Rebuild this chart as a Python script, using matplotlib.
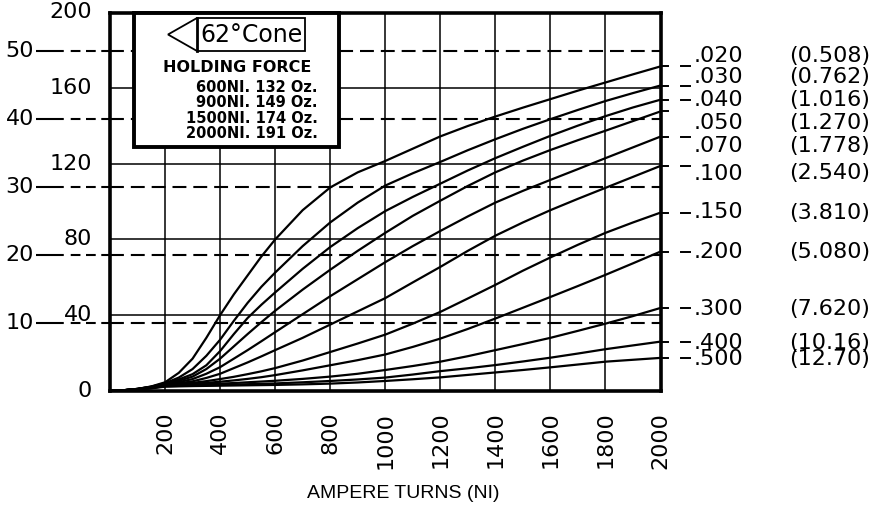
import matplotlib
matplotlib.use("Agg")
import matplotlib.pyplot as plt
import matplotlib.transforms as mtransforms
from matplotlib.lines import Line2D
from matplotlib.patches import Polygon, Rectangle

plt.rcParams['lines.scale_dashes'] = False
plt.rcParams['font.family'] = ['DejaVu Sans']

W, H = 893, 518

# ---------------- data ----------------
ampere_turns = [0, 50, 100, 150, 200, 250, 300, 350, 400, 450, 500, 550, 600,
                700, 800, 900, 1000, 1100, 1200, 1300, 1400, 1500, 1600, 1700, 1800, 1900, 2000]

gap_inch = ['.020', '.030', '.040', '.050', '.070', '.100', '.150', '.200', '.300', '.400', '.500']
gap_mm = ['(0.508)', '(0.762)', '(1.016)', '(1.270)', '(1.778)', '(2.540)',
          '(3.810)', '(5.080)', '(7.620)', '(10.16)', '(12.70)']

force_020 = [0, 0.3, 1.0, 2.3, 4.5, 9.5, 17, 28, 40, 51, 61, 71, 80,
             95.5, 107.5, 115.5, 121.5, 128, 134.5, 140, 145, 149.7, 154.2, 158.7, 163, 167.3, 171.5]
force_030 = [0, 0.3, 1.0, 2.2, 4.0, 7.0, 11.5, 18.5, 27, 37, 46.5, 55, 62.5,
             76.5, 89, 99.5, 108.5, 115, 121, 127.2, 133, 138.5, 143.6, 148.5, 153.2, 157.4, 161.4]
force_040 = [0, 0.3, 1.0, 2.1, 3.8, 6.0, 8.8, 13.5, 21, 30, 38.5, 45.5, 52,
             64.5, 76, 86, 95, 102.5, 109.5, 116.5, 123, 129, 134.8, 140.2, 145.2, 149.8, 153.9]
force_050 = [0, 0.3, 1.0, 2.0, 3.6, 5.3, 7.5, 11.5, 17, 23.5, 30, 36.3, 42.3,
             53.5, 64, 74, 83.5, 92.5, 100.5, 108.3, 115.5, 121.7, 127.3, 132.5, 137.5, 142.6, 147.7]
force_070 = [0, 0.3, 0.9, 1.9, 3.4, 4.6, 6.2, 9.0, 12.5, 17, 21.5, 26.2, 31,
             40.5, 50, 59, 68, 76.5, 84.5, 92.2, 99.5, 105.7, 111.5, 117.2, 123, 128.7, 134.4]
force_100 = [0, 0.3, 0.9, 1.8, 3.2, 4.0, 5.0, 6.8, 9.0, 12, 15, 18.2, 21.5,
             28, 35, 42, 49, 57.3, 65.5, 74, 82, 89, 95.5, 101.5, 107.3, 113.1, 118.9]
force_150 = [0, 0.3, 0.8, 1.7, 3.0, 3.5, 4.2, 5.1, 6.2, 7.4, 8.8, 10.3, 12,
             16, 20.5, 25, 29.7, 35.5, 41.7, 48.8, 56, 63.5, 70.5, 77.2, 83.5, 89, 94.2]
force_200 = [0, 0.3, 0.8, 1.6, 2.8, 3.2, 3.7, 4.2, 4.8, 5.5, 6.3, 7.2, 8.3,
             10.8, 13.5, 16.2, 19.2, 23.2, 27.6, 32.7, 38.2, 43.9, 49.6, 55.4, 61.3, 67.4, 73.6]
force_300 = [0, 0.3, 0.8, 1.5, 2.6, 2.9, 3.2, 3.5, 3.8, 4.1, 4.5, 4.9, 5.3,
             6.3, 7.5, 9.0, 11, 13.1, 15.4, 18.3, 21.5, 24.7, 28, 31.7, 35.5, 39.5, 43.8]
force_400 = [0, 0.25, 0.7, 1.4, 2.4, 2.6, 2.8, 2.95, 3.1, 3.3, 3.5, 3.7, 3.9,
             4.5, 5.2, 6.0, 7.0, 8.6, 10.4, 11.9, 13.6, 15.5, 17.5, 19.7, 22, 24, 26]
force_500 = [0, 0.25, 0.7, 1.3, 2.2, 2.35, 2.5, 2.6, 2.7, 2.8, 2.9, 3.0, 3.1,
             3.4, 3.8, 4.4, 5.2, 6.1, 7.1, 8.4, 9.7, 11, 12.4, 13.9, 15.4, 16.4, 17.4]

curves = [force_020, force_030, force_040, force_050, force_070, force_100,
          force_150, force_200, force_300, force_400, force_500]

oz_ticks = [0, 40, 80, 120, 160, 200]
newton_ticks = [10, 20, 30, 40, 50]
OZ_PER_NEWTON = 3.5969
x_ticks = [200, 400, 600, 800, 1000, 1200, 1400, 1600, 1800, 2000]
x_grid = [200, 400, 600, 800, 1000, 1200, 1400, 1600, 1800]

holding_lines = ['600NI. 132 Oz.', '900NI. 149 Oz.', '1500NI. 174 Oz.', '2000NI. 191 Oz.']

# ---------------- layout ----------------
AX_L, AX_R, AX_T, AX_B = 110, 660.5, 12.5, 390.8
fig = plt.figure(figsize=(W / 100, H / 100), dpi=100)
ax = fig.add_axes([AX_L / W, 1 - AX_B / H, (AX_R - AX_L) / W, (AX_B - AX_T) / H])
ax.set_xlim(0, 2000)
ax.set_ylim(0, 200)

# pixel transform (origin top-left)
pxT = mtransforms.Affine2D().scale(1 / W, -1 / H).translate(0, 1) + fig.transFigure
px_data = mtransforms.blended_transform_factory(pxT, ax.transData)


def px_to_oz(py):
    return (AX_B - py) / (AX_B - AX_T) * 200


for s in ax.spines.values():
    s.set_linewidth(2.6)
    s.set_color('black')
    s.set_zorder(10)

ax.set_yticks([])
ax.set_xticks(x_ticks)
ax.set_xticklabels([str(v) for v in x_ticks], rotation=90, fontsize=16)
ax.tick_params(axis='x', length=0, pad=15)

# grid
for xv in x_grid:
    ax.axvline(xv, color='black', lw=1.1, zorder=1)
for yv in oz_ticks[1:-1]:
    ax.axhline(yv, color='black', lw=1.1, zorder=1)
for n in newton_ticks:
    yv = n * OZ_PER_NEWTON
    ln = ax.axhline(yv, color='black', lw=1.5, zorder=1)
    ln.set_dashes((10, 5))
    lead = Line2D([36, AX_L], [yv, yv], transform=px_data, color='black', lw=1.5,
                  clip_on=False)
    lead.set_dashes((20, 5, 7, 4, 7, 4, 7, 4))
    fig.add_artist(lead)
    ax.text(34, yv, str(n), transform=px_data, ha='right', va='center', fontsize=16)

for v in oz_ticks:
    ax.text(92, v, str(v), transform=px_data, ha='right', va='center', fontsize=16)

# curves
for f in curves:
    ax.plot(ampere_turns, f, color='black', lw=1.6, zorder=3,
            solid_capstyle='round', solid_joinstyle='round')

# right end marks and labels
label_px_y = [56, 77.5, 100, 123.5, 146, 173.5, 212.5, 251.7, 309, 342.5, 359.5]
for f, gi in zip(curves, gap_inch):
    yend = f[-1]
    ax.add_line(Line2D([AX_R, 668], [yend, yend], transform=px_data, color='black',
                       lw=1.4, clip_on=False))
    if gi != '.050':
        ax.add_line(Line2D([681, 690], [yend, yend], transform=px_data, color='black',
                           lw=1.4, clip_on=False))

n_single = len(gap_inch) - 2
for gi, gm, ly in zip(gap_inch[:n_single], gap_mm[:n_single], label_px_y[:n_single]):
    yl = px_to_oz(ly)
    ax.text(694, yl, gi, transform=px_data, ha='left', va='center', fontsize=16)
    ax.text(789, yl, gm, transform=px_data, ha='left', va='center', fontsize=16)

# the two last rows sit very close together: draw them as two-line texts
y_pair = px_to_oz((label_px_y[-2] + label_px_y[-1]) / 2)
ax.text(694, y_pair, '\n'.join(gap_inch[-2:]), transform=px_data, ha='left',
        va='center', fontsize=16, linespacing=0.72)
ax.text(789, y_pair, '\n'.join(gap_mm[-2:]), transform=px_data, ha='left',
        va='center', fontsize=16, linespacing=0.72)

# legend box
box = Rectangle((134, 13), 205, 134, transform=pxT, facecolor='white', edgecolor='black',
                lw=2.8, zorder=6, clip_on=False)
fig.add_artist(box)
tag = Polygon([(168, 34.5), (197, 18), (305, 18), (305, 51), (197, 51)], closed=True,
              transform=pxT, facecolor='white', edgecolor='black', lw=1.3, zorder=7)
fig.add_artist(tag)
fig.add_artist(Line2D([197, 197], [18, 51], transform=pxT, color='black', lw=2.0, zorder=8))
fig.text(200 / W, 1 - 35 / H, '62°Cone', ha='left', va='center', fontsize=17, zorder=9)
fig.text(237 / W, 1 - 68 / H, 'HOLDING FORCE', ha='center', va='center', fontsize=11.5,
         fontweight='bold', zorder=9)
for i, t in enumerate(holding_lines):
    fig.text(318 / W, 1 - (87 + 15.6 * i) / H, t, ha='right', va='center', fontsize=10.5,
             fontweight='bold', zorder=9)

fig.text(403 / W, 1 - 493 / H, 'AMPERE TURNS (NI)', ha='center', va='center',
         fontsize=14, family=['Liberation Sans', 'DejaVu Sans'])

fig.savefig('out.png', dpi=100, facecolor='white')
